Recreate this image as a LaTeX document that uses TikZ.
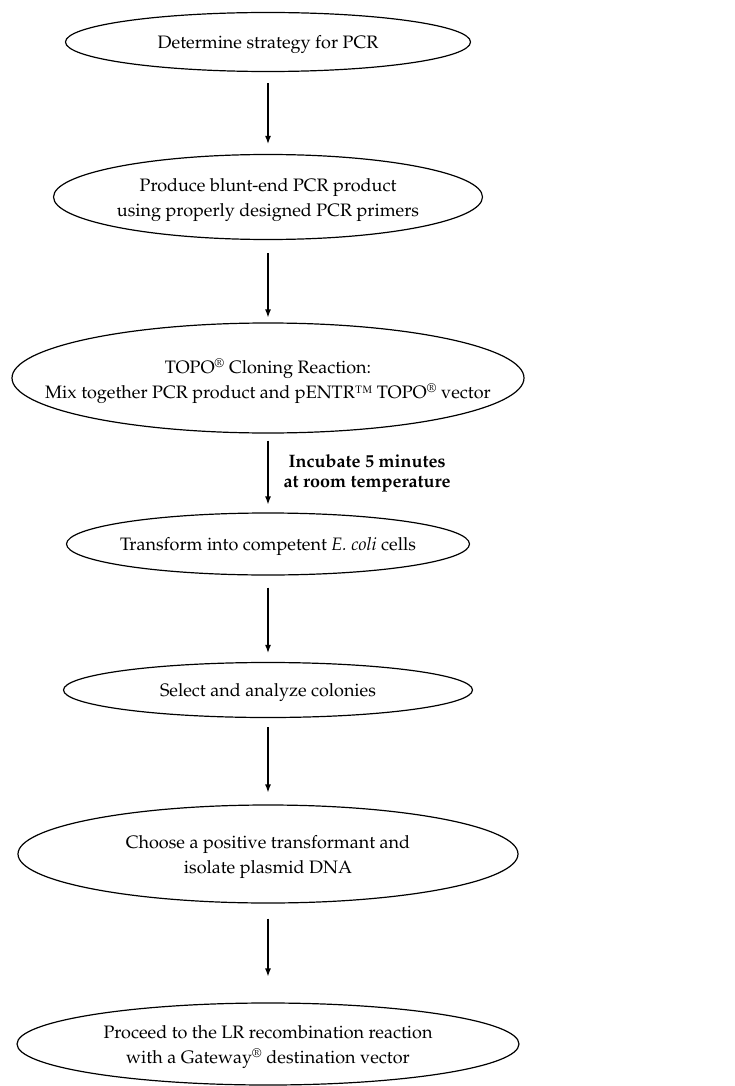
\documentclass[tikz,border=0pt]{standalone}
\usepackage[T1]{fontenc}
\renewcommand{\rmdefault}{ppl}
\usetikzlibrary{shapes.geometric,arrows.meta}
\begin{document}
\begin{tikzpicture}[x=1pt,y=-1pt,
  stepshape/.style={draw, ellipse, line width=1.2pt, inner sep=0pt},
  steptext/.style={align=center, inner sep=0pt, yshift=-3pt, font=\fontsize{18}{25}\selectfont},
  flow/.style={-{Latex[length=8pt,width=6pt]}, line width=1.2pt},
  flowlabel/.style={font=\bfseries\fontsize{18}{20}\selectfont, align=center, inner sep=0pt}
]
\useasboundingbox[fill=white] (0,0) rectangle (735,1086);
\node[stepshape, minimum width=405pt, minimum height=59pt] (e1) at (268,42) {};
\node[steptext] (t1) at (e1) {Determine strategy for PCR};
\node[stepshape, minimum width=429pt, minimum height=85pt] (e2) at (268,197) {};
\node[steptext] (t2) at (e2) {Produce blunt-end PCR product\\using properly designed PCR primers};
\node[stepshape, minimum width=512pt, minimum height=110pt] (e3) at (268,378) {};
\node[steptext] (t3) at (e3) {TOPO\textsuperscript{\textregistered} Cloning Reaction:\\Mix together PCR product and pENTR\texttrademark\ TOPO\textsuperscript{\textregistered} vector};
\node[stepshape, minimum width=403pt, minimum height=62pt] (e4) at (268,544) {};
\node[steptext] (t4) at (e4) {Transform into competent \textit{E. coli} cells};
\node[stepshape, minimum width=409pt, minimum height=55pt] (e5) at (268,690) {};
\node[steptext] (t5) at (e5) {Select and analyze colonies};
\node[stepshape, minimum width=500pt, minimum height=98pt] (e6) at (268,854) {};
\node[steptext] (t6) at (e6) {Choose a positive transformant and\\isolate plasmid DNA};
\node[stepshape, minimum width=502pt, minimum height=82pt] (e7) at (268,1044) {};
\node[steptext] (t7) at (e7) {Proceed to the LR recombination reaction\\with a Gateway\textsuperscript{\textregistered} destination vector};

\draw[flow, shorten <=11pt, shorten >=10pt] (e1.south) -- (e2.north);
\draw[flow, shorten <=13pt, shorten >=5pt] (e2.south) -- (e3.north);
\draw[flow, shorten <=7pt, shorten >=8pt] (e3.south) -- node[right=15pt, flowlabel] {Incubate 5 minutes\\at room temperature} (e4.north);
\draw[flow, shorten <=12pt, shorten >=9pt] (e4.south) -- (e5.north);
\draw[flow, shorten <=9pt, shorten >=12pt] (e5.south) -- (e6.north);
\draw[flow, shorten <=15pt, shorten >=26pt] (e6.south) -- (e7.north);
\end{tikzpicture}
\end{document}
